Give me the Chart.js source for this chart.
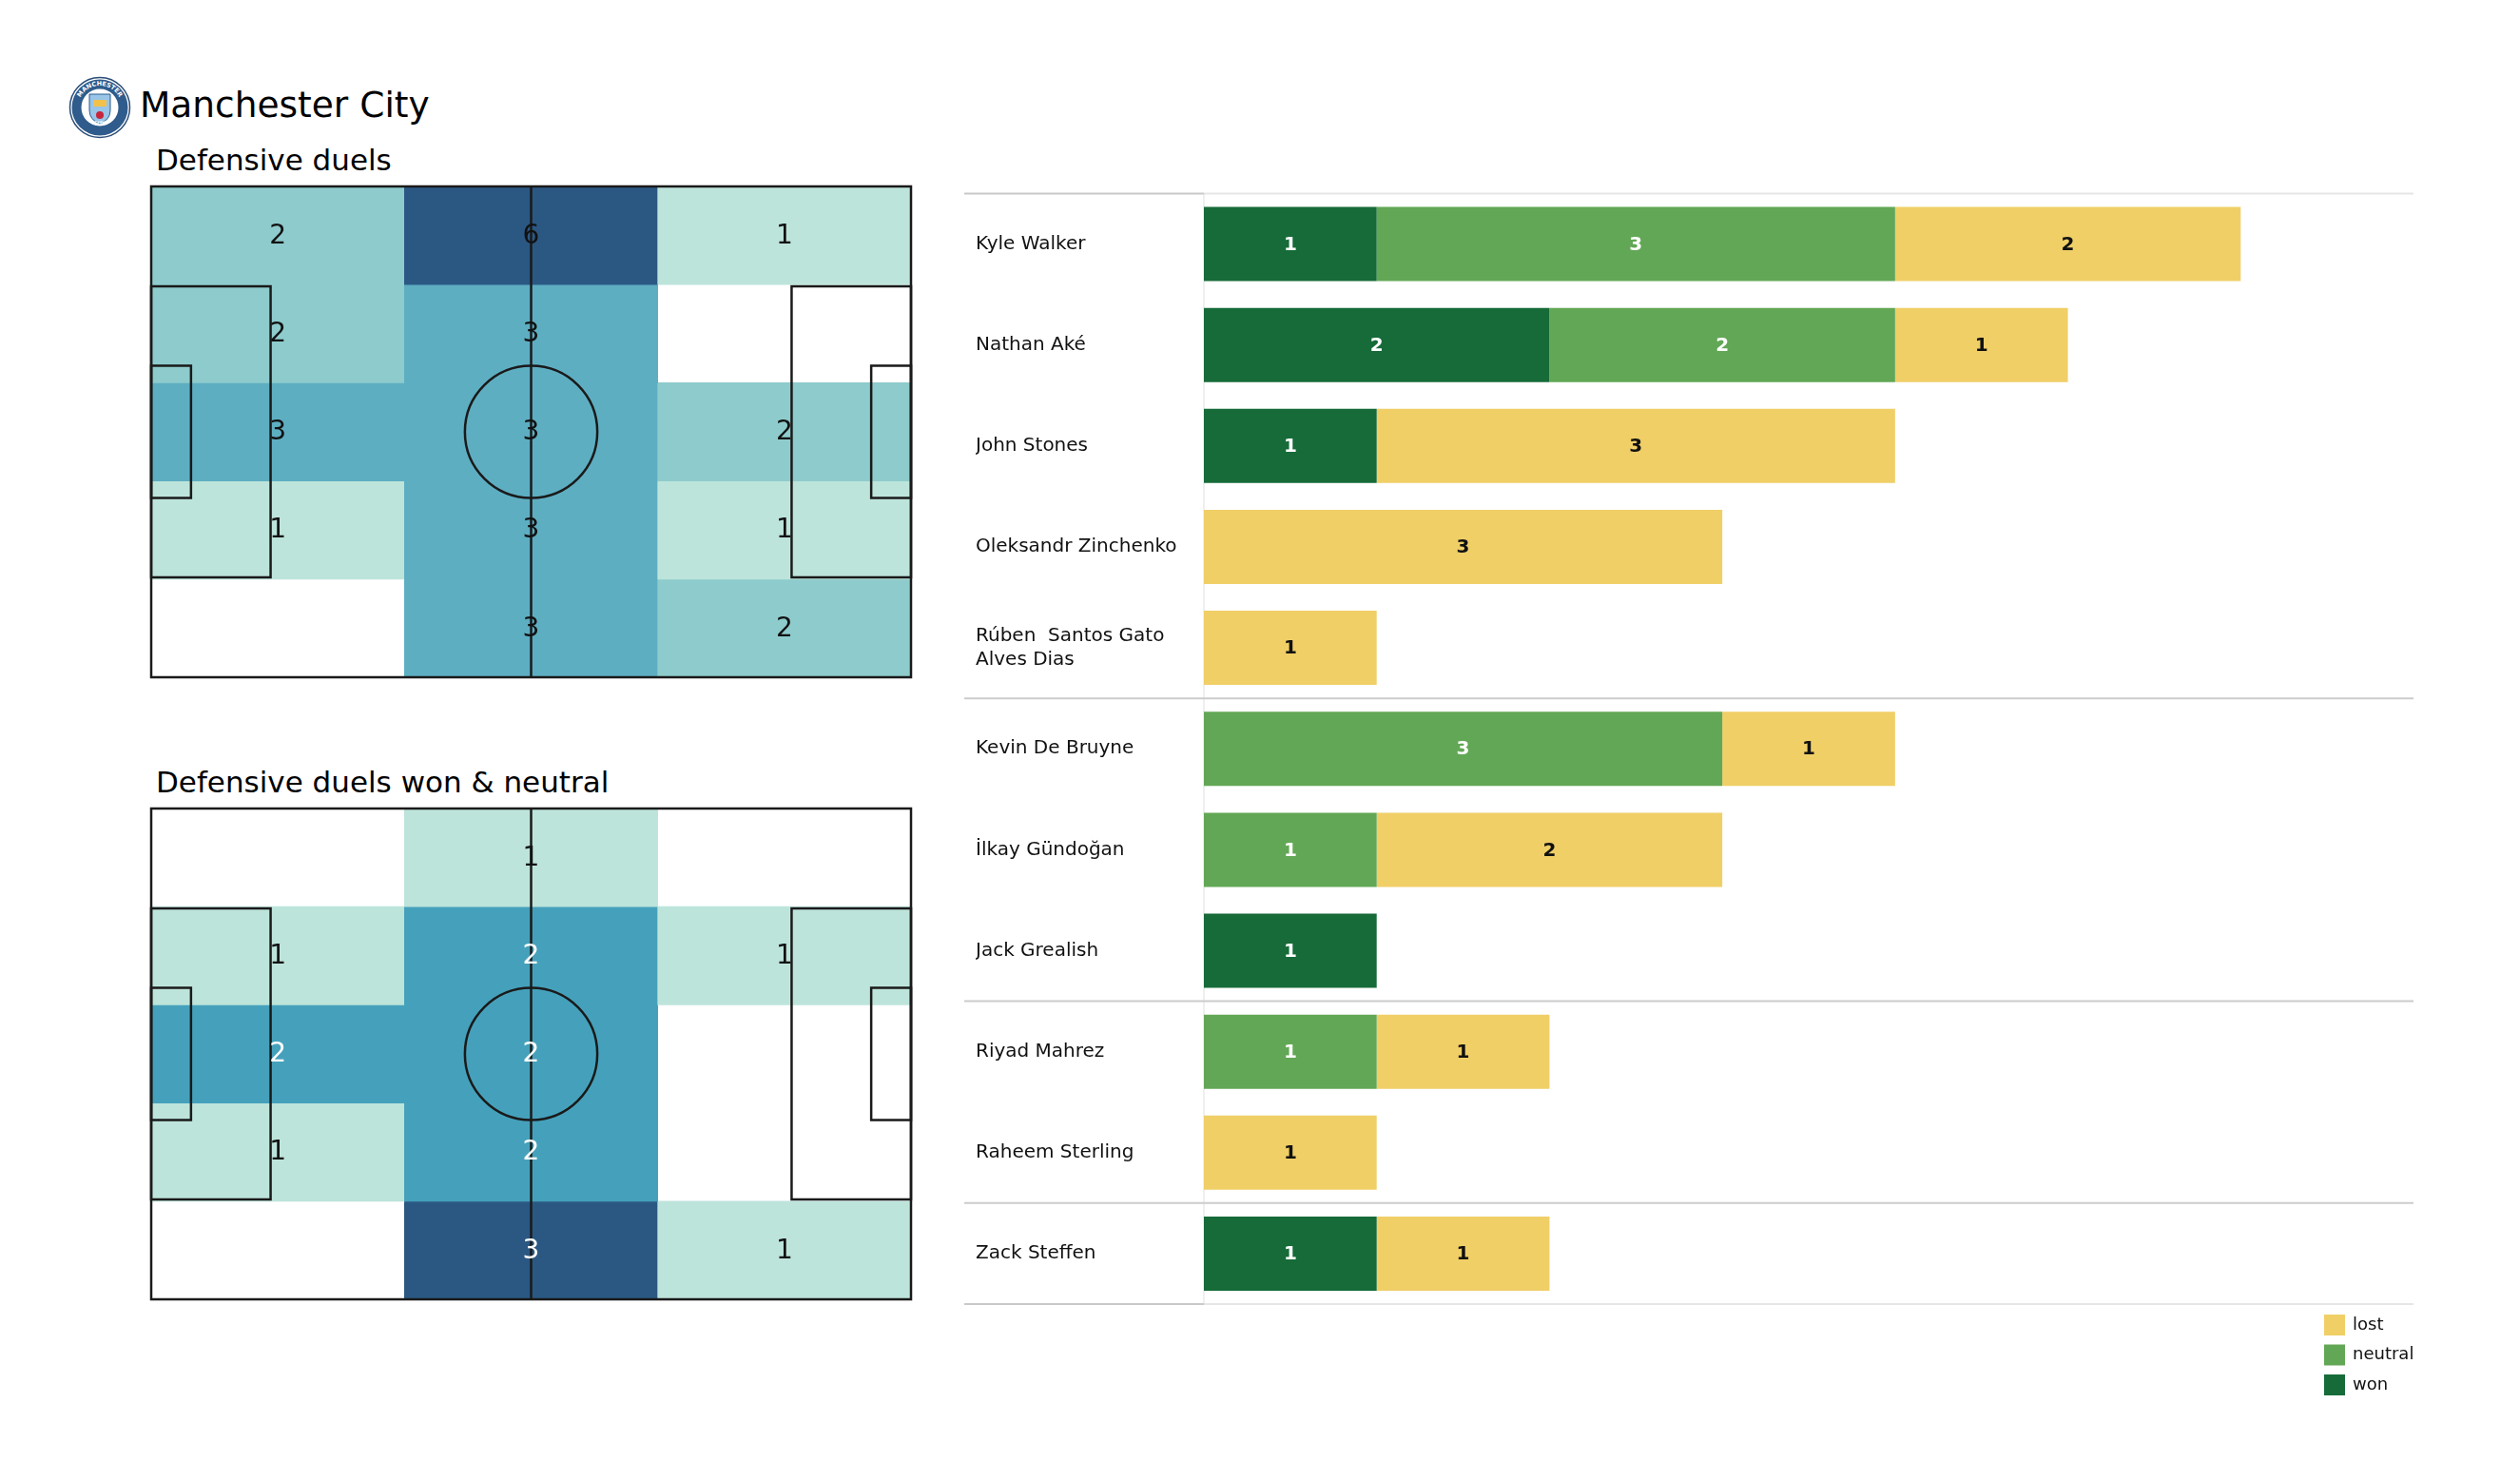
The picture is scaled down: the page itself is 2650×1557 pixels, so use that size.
<!DOCTYPE html>
<html>
<head>
<meta charset="utf-8">
<script src="https://cdn.jsdelivr.net/npm/chart.js@4.4.1/dist/chart.umd.min.js"></script>
<style>
html,body{margin:0;padding:0;background:#fff;}
body{width:2650px;height:1557px;position:relative;overflow:hidden;font-family:"DejaVu Sans",sans-serif;color:#000;}
.abs{position:absolute;}
.title{left:147px;top:92px;font-size:37.5px;line-height:37.5px;white-space:nowrap;}
.sub{left:164px;font-size:31px;line-height:31px;white-space:nowrap;}
canvas{display:block;}
</style>
</head>
<body>
<svg class="abs" style="left:72px;top:80px" width="66" height="66" viewBox="0 0 66 66">
  <defs>
    <path id="arcTop" d="M 10 33 A 23 23 0 0 1 56 33"/>
    <path id="arcBot" d="M 14 38 A 20 20 0 0 0 52 38"/>
  </defs>
  <circle cx="33" cy="33" r="31.5" fill="#ffffff" stroke="#2a4d78" stroke-width="1.5"/>
  <circle cx="33" cy="33" r="29.5" fill="#2f5c8c"/>
  <circle cx="33" cy="33" r="19.5" fill="#ffffff"/>
  <path d="M22 19 H44 V36 Q44 46 33 50 Q22 46 22 36 Z" fill="#98c5e8" stroke="#2f5c8c" stroke-width="1"/>
  <rect x="26" y="25" width="14" height="7" fill="#f2c14a"/>
  <circle cx="33" cy="41" r="4" fill="#c8243a"/>
  <text font-size="6.5" fill="#fff" font-family="DejaVu Sans" font-weight="bold"><textPath href="#arcTop" startOffset="50%" text-anchor="middle">MANCHESTER</textPath></text>
  <text font-size="5.5" fill="#fff" font-family="DejaVu Sans" font-weight="bold"><textPath href="#arcBot" startOffset="50%" text-anchor="middle">CITY</textPath></text>
</svg>
<div class="abs title">Manchester City</div>
<div class="abs sub" style="top:153px">Defensive duels</div>
<div class="abs sub" style="top:807px">Defensive duels won &amp; neutral</div>
<canvas id="pitch1" class="abs" style="left:149px;top:186px" width="819" height="536"></canvas>
<canvas id="pitch2" class="abs" style="left:149px;top:840px" width="819" height="536"></canvas>
<canvas id="bars" class="abs" style="left:1004px;top:191px" width="1646" height="1366"></canvas>

<script>
// ---------- DATA ----------
// Heatmap zones: 3 columns along the pitch length, 5 rows across its width (top to bottom)
const zoneColumns = ['defensive third', 'middle third', 'attacking third'];

const duelsRow1 = [2, 6, 1];
const duelsRow2 = [2, 3, 0];
const duelsRow3 = [3, 3, 2];
const duelsRow4 = [1, 3, 1];
const duelsRow5 = [0, 3, 2];

const wonNeutralRow1 = [0, 1, 0];
const wonNeutralRow2 = [1, 2, 1];
const wonNeutralRow3 = [2, 2, 0];
const wonNeutralRow4 = [1, 2, 0];
const wonNeutralRow5 = [0, 3, 1];

// Player duels
const players = [
  'Kyle Walker', 'Nathan Aké', 'John Stones', 'Oleksandr Zinchenko',
  ['Rúben  Santos Gato', 'Alves Dias'],
  'Kevin De Bruyne', 'İlkay Gündoğan', 'Jack Grealish',
  'Riyad Mahrez', 'Raheem Sterling', 'Zack Steffen'
];
const positionGroupSizes = [5, 3, 2, 1];
const wonValues     = [1, 2, 1, 0, 0, 0, 0, 1, 0, 0, 1];
const neutralValues = [3, 2, 0, 0, 0, 3, 1, 0, 1, 0, 0];
const lostValues    = [2, 1, 3, 3, 1, 1, 2, 0, 1, 1, 1];
const xAxisMax = 7;

// ---------- STYLE ----------
const FONT = "'DejaVu Sans', sans-serif";
const heatStops = [[0, '#bde4db'], [0.2, '#8ecbcc'], [0.4, '#5eaec2'], [0.5, '#45a1bb'], [1, '#2b5883']];
function hex2rgb(h){return [parseInt(h.slice(1,3),16),parseInt(h.slice(3,5),16),parseInt(h.slice(5,7),16)];}
function heatColor(t){
  for (let i = 1; i < heatStops.length; i++) {
    if (t <= heatStops[i][0]) {
      const [t0, c0] = heatStops[i-1], [t1, c1] = heatStops[i];
      const f = (t - t0) / (t1 - t0);
      const a = hex2rgb(c0), b = hex2rgb(c1);
      return 'rgb(' + a.map((v, k) => Math.round(v + (b[k] - v) * f)).join(',') + ')';
    }
  }
  return heatStops[heatStops.length-1][1];
}

// Pitch markings (metres) drawn through hidden linear scales
const pitchLines = {
  id: 'pitchLines',
  afterDatasetsDraw(chart) {
    const px = chart.scales.px, py = chart.scales.py, c = chart.ctx;
    const X = v => px.getPixelForValue(v), Y = v => py.getPixelForValue(v);
    c.save();
    c.strokeStyle = '#1a1a1a';
    c.lineWidth = 2.5;
    const rect = (x0, y0, x1, y1) => { c.strokeRect(X(x0), Y(y0), X(x1) - X(x0), Y(y1) - Y(y0)); };
    rect(0, 0, 105, 68);
    rect(0, 13.84, 16.5, 54.16);
    rect(88.5, 13.84, 105, 54.16);
    rect(0, 24.84, 5.5, 43.16);
    rect(99.5, 24.84, 105, 43.16);
    c.beginPath(); c.moveTo(X(52.5), Y(0)); c.lineTo(X(52.5), Y(68)); c.stroke();
    c.beginPath();
    c.ellipse(X(52.5), Y(34), Math.abs(X(52.5 + 9.15) - X(52.5)), Math.abs(Y(34 + 9.15) - Y(34)), 0, 0, Math.PI * 2);
    c.stroke();
    c.restore();
  }
};

const heatLabels = {
  id: 'heatLabels',
  afterDraw(chart, args, opts) {
    const c = chart.ctx;
    c.save();
    c.font = '28px ' + FONT;
    c.textAlign = 'center';
    c.textBaseline = 'middle';
    chart.data.datasets.forEach((ds, di) => {
      const meta = chart.getDatasetMeta(di);
      ds.values.forEach((v, ci) => {
        if (!v) return;
        const el = meta.data[ci];
        c.fillStyle = v >= opts.whiteFrom ? '#ffffff' : '#111111';
        c.fillText(String(v), el.x, (el.y + el.base) / 2 + 1);
      });
    });
    c.restore();
  }
};

function makePitch(id, rows, whiteFrom) {
  const nz = rows.flat().filter(v => v > 0);
  const mn = Math.min(...nz), mx = Math.max(...nz);
  const datasets = rows.map((row, r) => ({
    label: 'row ' + (r + 1),
    values: row,
    data: row.map(v => v > 0 ? [r, r + 1] : null),
    backgroundColor: row.map(v => heatColor(mx > mn ? (v - mn) / (mx - mn) : 0)),
    borderWidth: 0,
    grouped: false,
    categoryPercentage: 1,
    barPercentage: 1
  }));
  new Chart(document.getElementById(id), {
    type: 'bar',
    data: { labels: zoneColumns, datasets },
    options: {
      responsive: false, animation: false, events: [],
      layout: { padding: 10 },
      scales: {
        x: { display: false, offset: true },
        y: { display: false, min: 0, max: 5, reverse: true },
        px: { type: 'linear', axis: 'x', position: 'bottom', display: false, offset: false, grace: 0, bounds: 'ticks', min: 0, max: 105 },
        py: { type: 'linear', axis: 'y', position: 'left', display: false, offset: false, grace: 0, min: 0, max: 68, reverse: true }
      },
      plugins: { legend: { display: false }, tooltip: { enabled: false }, heatLabels: { whiteFrom } }
    },
    plugins: [pitchLines, heatLabels]
  });
}

makePitch('pitch1', [duelsRow1, duelsRow2, duelsRow3, duelsRow4, duelsRow5], Infinity);
makePitch('pitch2', [wonNeutralRow1, wonNeutralRow2, wonNeutralRow3, wonNeutralRow4, wonNeutralRow5], 2);

// ---------- BAR CHART ----------
const barGrid = {
  id: 'barGrid',
  beforeDatasetsDraw(chart) {
    const c = chart.ctx, a = chart.chartArea, y = chart.scales.y;
    const leftX = y.left - 12;
    c.save();
    c.lineWidth = 2;
    c.strokeStyle = '#efefef';
    c.beginPath(); c.moveTo(a.left, a.top); c.lineTo(a.left, a.bottom); c.stroke();
    [a.top, a.bottom].forEach(yy => {
      c.strokeStyle = '#c9c9c9';
      c.beginPath(); c.moveTo(leftX, yy); c.lineTo(a.left, yy); c.stroke();
      c.strokeStyle = '#e6e6e6';
      c.beginPath(); c.moveTo(a.left, yy); c.lineTo(a.right, yy); c.stroke();
    });
    c.strokeStyle = '#cccccc';
    let idx = 0;
    positionGroupSizes.slice(0, -1).forEach(sz => {
      idx += sz;
      const yy = (y.getPixelForValue(idx - 1) + y.getPixelForValue(idx)) / 2;
      c.beginPath(); c.moveTo(leftX, yy); c.lineTo(a.right, yy); c.stroke();
    });
    c.restore();
  }
};

const barValues = {
  id: 'barValues',
  afterDatasetsDraw(chart) {
    const c = chart.ctx;
    c.save();
    c.font = 'bold 20px ' + FONT;
    c.textAlign = 'center';
    c.textBaseline = 'middle';
    chart.data.datasets.forEach((ds, di) => {
      const meta = chart.getDatasetMeta(di);
      ds.data.forEach((v, i) => {
        if (!v) return;
        const el = meta.data[i];
        c.fillStyle = ds.labelColor;
        c.fillText(String(v), (el.x + el.base) / 2, el.y + 1);
      });
    });
    c.restore();
  }
};

const sideLegend = {
  id: 'sideLegend',
  afterDraw(chart) {
    const c = chart.ctx, a = chart.chartArea;
    const items = chart.data.datasets.slice().reverse();
    c.save();
    c.font = '18px ' + FONT;
    c.textBaseline = 'middle';
    c.textAlign = 'left';
    items.forEach((ds, i) => {
      const cy = a.bottom + 22 + i * 31.5;
      const sx = a.right - 94;
      c.fillStyle = ds.backgroundColor;
      c.fillRect(sx, cy - 11, 22, 22);
      c.fillStyle = '#111';
      c.fillText(ds.label, sx + 30, cy);
    });
    c.restore();
  }
};

new Chart(document.getElementById('bars'), {
  type: 'bar',
  data: {
    labels: players,
    datasets: [
      { label: 'won', data: wonValues, backgroundColor: '#166b38', labelColor: '#ffffff' },
      { label: 'neutral', data: neutralValues, backgroundColor: '#62a755', labelColor: '#ffffff' },
      { label: 'lost', data: lostValues, backgroundColor: '#f0cf67', labelColor: '#111111' }
    ]
  },
  options: {
    indexAxis: 'y',
    responsive: false, animation: false, events: [],
    layout: { padding: { left: 22, right: 112, top: 10, bottom: 186 } },
    datasets: { bar: { categoryPercentage: 1, barPercentage: 0.735, borderWidth: 0 } },
    scales: {
      x: { stacked: true, min: 0, max: xAxisMax, display: false },
      y: {
        stacked: true,
        grid: { display: false, drawTicks: false },
        border: { display: false },
        ticks: { crossAlign: 'far', color: '#111', padding: 0, font: { family: FONT, size: 20, lineHeight: 1.25 } },
        afterFit(s) { s.width = 240; }
      }
    },
    plugins: { legend: { display: false }, tooltip: { enabled: false } }
  },
  plugins: [barGrid, barValues, sideLegend]
});
</script>
</body>
</html>
